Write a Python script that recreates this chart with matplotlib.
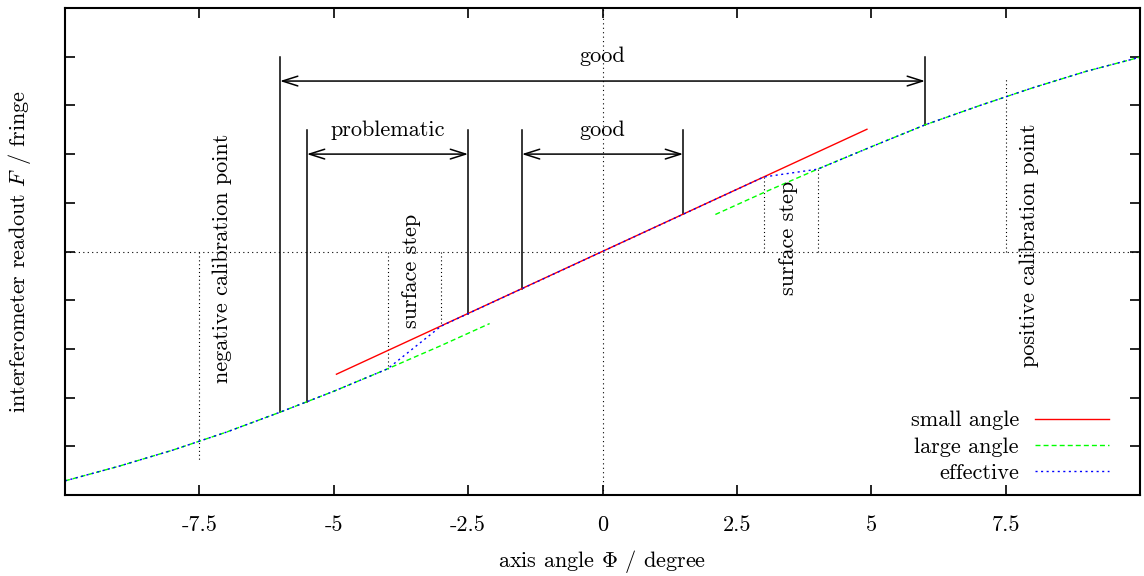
import numpy as np
import matplotlib
matplotlib.use("Agg")
import matplotlib.pyplot as plt

plt.rcParams['font.family'] = 'serif'
plt.rcParams['font.serif'] = ['cmr10', 'DejaVu Serif']
plt.rcParams['mathtext.fontset'] = 'cm'
plt.rcParams['axes.unicode_minus'] = False

# small angle approximation (straight line)
small_x = [-4.95, 4.92]
small_y = [-2.52, 2.51]

# large angle curve, two branches
large_neg_x = [-10, -9, -8, -7, -6, -5, -4, -3, -2.1]
large_neg_y = [-4.71, -4.41, -4.08, -3.71, -3.30, -2.87, -2.41, -1.93, -1.48]
large_pos_x = [2.1, 3, 4, 5, 6, 7, 8, 9, 10]
large_pos_y = [0.76, 1.21, 1.69, 2.15, 2.60, 2.99, 3.36, 3.70, 3.99]

# effective readout
eff_x = [-10, -9, -8, -7, -6, -5, -4, -3, 3, 4, 5, 6, 7, 8, 9, 10]
eff_y = [-4.71, -4.41, -4.08, -3.71, -3.30, -2.87, -2.41, -1.53,
         1.53, 1.69, 2.15, 2.60, 2.99, 3.36, 3.70, 3.99]

# dotted marker lines: x, y_from, y_to
calib_lines = [(-7.5, 0, -4.30), (7.5, 0, 3.55)]
step_lines = [(-4, 0, -2.41), (-3, 0, -1.53), (3, 0, 1.53), (4, 0, 1.69)]

# range brackets: x_left, x_right, top, left_bottom, right_bottom, arrow_y, label, label_y
ranges = [
    (-6.0, 6.0, 4.0, -3.30, 2.60, 3.5, "good", 4.0),
    (-5.5, -2.5, 2.5, -3.09, -1.275, 2.0, "problematic", 2.5),
    (-1.5, 1.5, 2.5, -0.765, 0.765, 2.0, "good", 2.5),
]

xticks = [-7.5, -5, -2.5, 0, 2.5, 5, 7.5]
xtick_labels = ["-7.5", "-5", "-2.5", "0", "2.5", "5", "7.5"]
yticks = [-4, -3, -2, -1, 0, 1, 2, 3, 4]

fs = 16

fig = plt.figure(figsize=(11.44, 5.76), dpi=100)
ax = fig.add_axes([65/1144, 1 - 495/576, 1075/1144, 487/576])

# reference axes
ax.axhline(0, color='black', lw=0.8, ls=(0, (1, 3)))
ax.axvline(0, color='black', lw=0.8, ls=(0, (1, 3)))
for x, y0, y1 in calib_lines + step_lines:
    ax.plot([x, x], [y0, y1], color='black', lw=0.8, ls=(0, (1, 2.5)))

# brackets and arrows
for xl, xr, top, bl, br, ay, lab, ly in ranges:
    ax.plot([xl, xl], [top, bl], color='black', lw=1.1)
    ax.plot([xr, xr], [top, br], color='black', lw=1.1)
    ax.annotate('', xy=(xr, ay), xytext=(xl, ay),
                arrowprops=dict(arrowstyle='<->,head_length=1.1,head_width=0.35',
                                color='black', lw=1.1, shrinkA=0, shrinkB=0,
                                mutation_scale=10))
    ax.text((xl + xr) / 2, ly, lab, ha='center', va='center', fontsize=fs)

# rotated annotations
ax.text(-7.08, -0.13, "negative calibration point", rotation=90,
        ha='center', va='center', fontsize=fs)
ax.text(-3.55, -0.39, "surface step", rotation=90, ha='center', va='center', fontsize=fs)
ax.text(3.46, 0.27, "surface step", rotation=90, ha='center', va='center', fontsize=fs)
ax.text(7.94, 0.12, "positive calibration point", rotation=90,
        ha='center', va='center', fontsize=fs)

# curves
ax.plot(small_x, small_y, color='#ff0000', lw=1.0, label='small angle')
ax.plot(large_neg_x, large_neg_y, color='#00ff00', lw=1.0, ls=(0, (3.6, 2.2)),
        label='large angle')
ax.plot(large_pos_x, large_pos_y, color='#00ff00', lw=1.0, ls=(0, (3.6, 2.2)))
ax.plot(eff_x, eff_y, color='#0000ff', lw=1.0, ls=(0, (1.5, 2.5)), label='effective')

ax.set_xlim(-10, 10)
ax.set_ylim(-5, 5)
ax.set_xticks(xticks)
ax.set_xticklabels(xtick_labels, fontsize=fs)
ax.set_yticks(yticks)
ax.set_yticklabels([])
ax.tick_params(direction='in', length=7, width=1.2, top=True, right=True, pad=15)
for s in ax.spines.values():
    s.set_linewidth(1.5)

ax.set_xlabel(r"axis angle $\Phi$ / degree", fontsize=fs, labelpad=9)
ax.set_ylabel(r"interferometer readout $F$ / fringe", fontsize=fs, labelpad=8)

ax.legend(loc='lower right', bbox_to_anchor=(0.971, 0.025), frameon=False,
          markerfirst=False, fontsize=fs, handlelength=3.3, handletextpad=0.75,
          labelspacing=0.3, borderpad=0, borderaxespad=0)

fig.savefig("out.png", dpi=100)
